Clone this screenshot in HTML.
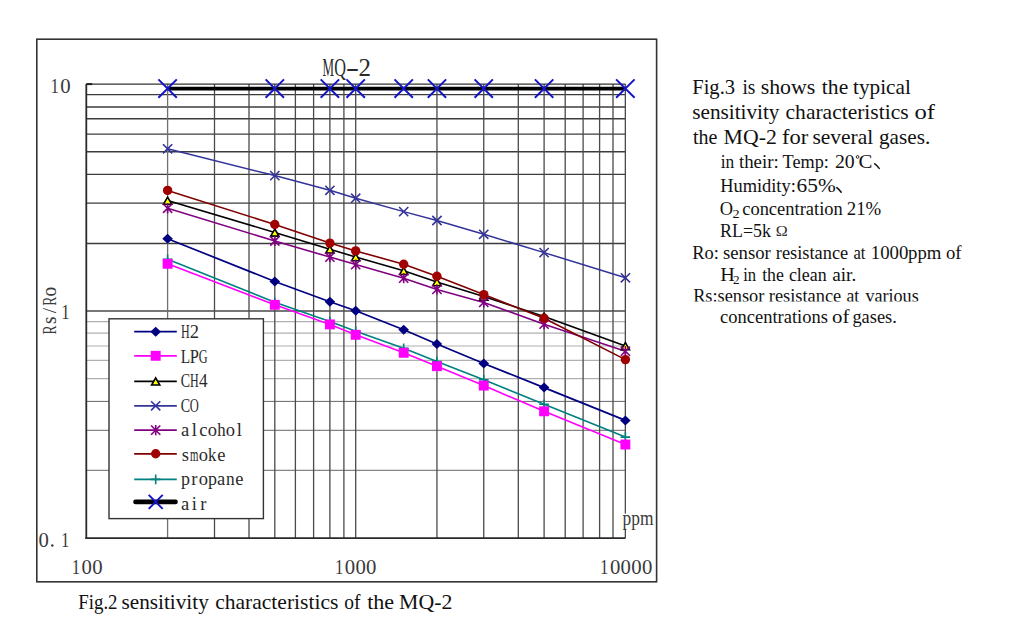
<!DOCTYPE html>
<html><head><meta charset="utf-8"><title>MQ-2</title>
<style>html,body{margin:0;padding:0;background:#fff;width:1024px;height:628px;overflow:hidden;position:relative}
svg text{font-family:"Liberation Serif",serif}</style></head>
<body>
<svg width="1024" height="628" viewBox="0 0 1024 628" style="position:absolute;left:0;top:0">
<rect x="36.8" y="39.2" width="619.8" height="542.6" fill="none" stroke="#333" stroke-width="1.6"/>
<line x1="86.3" y1="94.60" x2="625.4" y2="94.60" stroke="#3c3c3c" stroke-width="1.4"/>
<line x1="86.3" y1="107.00" x2="625.4" y2="107.00" stroke="#3c3c3c" stroke-width="1.4"/>
<line x1="86.3" y1="118.80" x2="625.4" y2="118.80" stroke="#3c3c3c" stroke-width="1.4"/>
<line x1="86.3" y1="134.10" x2="625.4" y2="134.10" stroke="#3c3c3c" stroke-width="1.4"/>
<line x1="86.3" y1="151.70" x2="625.4" y2="151.70" stroke="#3c3c3c" stroke-width="1.4"/>
<line x1="86.3" y1="174.40" x2="625.4" y2="174.40" stroke="#3c3c3c" stroke-width="1.4"/>
<line x1="86.3" y1="203.10" x2="625.4" y2="203.10" stroke="#3c3c3c" stroke-width="1.4"/>
<line x1="86.3" y1="243.50" x2="625.4" y2="243.50" stroke="#3c3c3c" stroke-width="1.4"/>
<line x1="86.3" y1="311.00" x2="625.4" y2="311.00" stroke="#4a4a4a" stroke-width="1.4"/>
<line x1="86.3" y1="321.70" x2="625.4" y2="321.70" stroke="#b0b0b0" stroke-width="1.2"/>
<line x1="86.3" y1="333.20" x2="625.4" y2="333.20" stroke="#b0b0b0" stroke-width="1.2"/>
<line x1="86.3" y1="346.00" x2="625.4" y2="346.00" stroke="#b0b0b0" stroke-width="1.2"/>
<line x1="86.3" y1="360.40" x2="625.4" y2="360.40" stroke="#b0b0b0" stroke-width="1.2"/>
<line x1="86.3" y1="378.70" x2="625.4" y2="378.70" stroke="#b0b0b0" stroke-width="1.2"/>
<line x1="86.3" y1="401.40" x2="625.4" y2="401.40" stroke="#666" stroke-width="1.0"/>
<line x1="86.3" y1="430.30" x2="625.4" y2="430.30" stroke="#666" stroke-width="1.0"/>
<line x1="86.3" y1="470.30" x2="625.4" y2="470.30" stroke="#666" stroke-width="1.0"/>
<line x1="167.60" y1="84.1" x2="167.60" y2="538.2" stroke="#707070" stroke-width="1.3"/>
<line x1="214.50" y1="84.1" x2="214.50" y2="538.2" stroke="#4a4a4a" stroke-width="1.3"/>
<line x1="249.00" y1="84.1" x2="249.00" y2="538.2" stroke="#4a4a4a" stroke-width="1.3"/>
<line x1="274.80" y1="84.1" x2="274.80" y2="538.2" stroke="#4a4a4a" stroke-width="1.3"/>
<line x1="295.40" y1="84.1" x2="295.40" y2="538.2" stroke="#4a4a4a" stroke-width="1.3"/>
<line x1="313.60" y1="84.1" x2="313.60" y2="538.2" stroke="#4a4a4a" stroke-width="1.3"/>
<line x1="329.90" y1="84.1" x2="329.90" y2="538.2" stroke="#4a4a4a" stroke-width="1.3"/>
<line x1="343.90" y1="84.1" x2="343.90" y2="538.2" stroke="#4a4a4a" stroke-width="1.3"/>
<line x1="355.70" y1="84.1" x2="355.70" y2="538.2" stroke="#4a4a4a" stroke-width="1.3"/>
<line x1="436.95" y1="84.1" x2="436.95" y2="538.2" stroke="#4a4a4a" stroke-width="1.3"/>
<line x1="483.75" y1="84.1" x2="483.75" y2="538.2" stroke="#4a4a4a" stroke-width="1.3"/>
<line x1="518.30" y1="84.1" x2="518.30" y2="538.2" stroke="#4a4a4a" stroke-width="1.3"/>
<line x1="544.10" y1="84.1" x2="544.10" y2="538.2" stroke="#4a4a4a" stroke-width="1.3"/>
<line x1="565.20" y1="84.1" x2="565.20" y2="538.2" stroke="#4a4a4a" stroke-width="1.3"/>
<line x1="583.10" y1="84.1" x2="583.10" y2="538.2" stroke="#4a4a4a" stroke-width="1.3"/>
<line x1="599.60" y1="84.1" x2="599.60" y2="538.2" stroke="#4a4a4a" stroke-width="1.3"/>
<line x1="613.00" y1="84.1" x2="613.00" y2="538.2" stroke="#4a4a4a" stroke-width="1.3"/>
<line x1="625.35" y1="84.1" x2="625.35" y2="538.2" stroke="#4a4a4a" stroke-width="1.3"/>
<line x1="86.3" y1="84.10" x2="625.4" y2="84.10" stroke="#333" stroke-width="1.4"/>
<line x1="86.30" y1="84.1" x2="86.30" y2="539.0" stroke="#2a2a2a" stroke-width="1.8"/>
<line x1="85.4" y1="538.20" x2="625.4" y2="538.20" stroke="#2a2a2a" stroke-width="1.8"/>
<line x1="86.3" y1="84.10" x2="92.3" y2="84.10" stroke="#222" stroke-width="2"/>
<polyline points="167.6,238.7 274.8,281.5 329.9,301.8 355.7,310.7 403.7,329.8 436.9,344.0 483.8,363.5 544.1,387.6 625.4,420.4" fill="none" stroke="#000080" stroke-width="1.7" stroke-linejoin="round"/>
<polyline points="167.6,263.8 274.8,304.8 329.9,324.4 355.7,334.8 403.7,352.8 436.9,366.2 483.8,385.6 544.1,411.3 625.4,444.5" fill="none" stroke="#ff00ff" stroke-width="1.6" stroke-linejoin="round"/>
<polyline points="167.6,200.5 274.8,232.4 329.9,249.3 355.7,257.0 403.7,270.8 436.9,282.0 483.8,296.5 544.1,316.5 625.4,346.0" fill="none" stroke="#000000" stroke-width="1.6" stroke-linejoin="round"/>
<polyline points="167.6,148.8 274.8,175.6 329.9,190.3 355.7,198.2 403.7,211.6 436.9,220.5 483.8,234.3 544.1,252.6 625.4,277.8" fill="none" stroke="#333399" stroke-width="1.5" stroke-linejoin="round"/>
<polyline points="167.6,208.3 274.8,241.0 329.9,257.1 355.7,264.6 403.7,278.2 436.9,289.4 483.8,302.4 544.1,324.2 625.4,351.2" fill="none" stroke="#800080" stroke-width="1.6" stroke-linejoin="round"/>
<polyline points="167.6,190.4 274.8,224.5 329.9,243.1 355.7,250.9 403.7,264.2 436.9,276.3 483.8,294.6 544.1,318.2 625.4,359.6" fill="none" stroke="#800000" stroke-width="1.6" stroke-linejoin="round"/>
<polyline points="167.6,259.3 274.8,302.2 329.9,321.5 355.7,331.2 403.7,348.2 436.9,361.5 483.8,379.8 544.1,404.3 625.4,437.1" fill="none" stroke="#008080" stroke-width="1.6" stroke-linejoin="round"/>
<polyline points="167.6,88.6 274.8,88.6 329.9,88.6 355.7,88.6 403.7,88.6 436.9,88.6 483.8,88.6 544.1,88.6 625.4,88.6" fill="none" stroke="#000000" stroke-width="3.8" stroke-linejoin="round"/>
<path d="M167.6 233.7L172.9 238.7L167.6 243.7L162.3 238.7Z" fill="#000080"/>
<path d="M274.8 276.5L280.1 281.5L274.8 286.5L269.5 281.5Z" fill="#000080"/>
<path d="M329.9 296.8L335.2 301.8L329.9 306.8L324.6 301.8Z" fill="#000080"/>
<path d="M355.7 305.7L361.0 310.7L355.7 315.7L350.4 310.7Z" fill="#000080"/>
<path d="M403.7 324.8L409.0 329.8L403.7 334.8L398.4 329.8Z" fill="#000080"/>
<path d="M436.9 339.0L442.2 344.0L436.9 349.0L431.6 344.0Z" fill="#000080"/>
<path d="M483.8 358.5L489.1 363.5L483.8 368.5L478.4 363.5Z" fill="#000080"/>
<path d="M544.1 382.6L549.4 387.6L544.1 392.6L538.8 387.6Z" fill="#000080"/>
<path d="M625.4 415.4L630.6 420.4L625.4 425.4L620.1 420.4Z" fill="#000080"/>
<path d="M167.6 197.1L171.7 204.2L163.5 204.2Z" fill="#ffff00" stroke="#000" stroke-width="1.6" stroke-linejoin="miter"/>
<path d="M274.8 229.0L278.9 236.1L270.7 236.1Z" fill="#ffff00" stroke="#000" stroke-width="1.6" stroke-linejoin="miter"/>
<path d="M329.9 245.9L334.0 253.0L325.8 253.0Z" fill="#ffff00" stroke="#000" stroke-width="1.6" stroke-linejoin="miter"/>
<path d="M355.7 253.6L359.8 260.7L351.6 260.7Z" fill="#ffff00" stroke="#000" stroke-width="1.6" stroke-linejoin="miter"/>
<path d="M403.7 267.4L407.8 274.5L399.6 274.5Z" fill="#ffff00" stroke="#000" stroke-width="1.6" stroke-linejoin="miter"/>
<path d="M436.9 278.6L441.1 285.7L432.8 285.7Z" fill="#ffff00" stroke="#000" stroke-width="1.6" stroke-linejoin="miter"/>
<path d="M483.8 293.1L487.9 300.2L479.6 300.2Z" fill="#ffff00" stroke="#000" stroke-width="1.6" stroke-linejoin="miter"/>
<path d="M544.1 313.1L548.2 320.2L540.0 320.2Z" fill="#ffff00" stroke="#000" stroke-width="1.6" stroke-linejoin="miter"/>
<path d="M625.4 342.6L629.5 349.7L621.2 349.7Z" fill="#ffff00" stroke="#000" stroke-width="1.6" stroke-linejoin="miter"/>
<path d="M163.0 144.2L172.2 153.4M172.2 144.2L163.0 153.4" stroke="#333399" stroke-width="1.6" fill="none"/>
<path d="M270.2 171.0L279.4 180.2M279.4 171.0L270.2 180.2" stroke="#333399" stroke-width="1.6" fill="none"/>
<path d="M325.3 185.7L334.5 194.9M334.5 185.7L325.3 194.9" stroke="#333399" stroke-width="1.6" fill="none"/>
<path d="M351.1 193.6L360.3 202.8M360.3 193.6L351.1 202.8" stroke="#333399" stroke-width="1.6" fill="none"/>
<path d="M399.1 207.0L408.3 216.2M408.3 207.0L399.1 216.2" stroke="#333399" stroke-width="1.6" fill="none"/>
<path d="M432.3 215.9L441.6 225.1M441.6 215.9L432.3 225.1" stroke="#333399" stroke-width="1.6" fill="none"/>
<path d="M479.1 229.7L488.4 238.9M488.4 229.7L479.1 238.9" stroke="#333399" stroke-width="1.6" fill="none"/>
<path d="M539.5 248.0L548.7 257.2M548.7 248.0L539.5 257.2" stroke="#333399" stroke-width="1.6" fill="none"/>
<path d="M620.8 273.2L630.0 282.4M630.0 273.2L620.8 282.4" stroke="#333399" stroke-width="1.6" fill="none"/>
<path d="M163.0 203.7L172.2 212.9M172.2 203.7L163.0 212.9M167.6 203.2L167.6 213.4" stroke="#800080" stroke-width="1.6" fill="none"/>
<path d="M270.2 236.4L279.4 245.6M279.4 236.4L270.2 245.6M274.8 235.9L274.8 246.1" stroke="#800080" stroke-width="1.6" fill="none"/>
<path d="M325.3 252.5L334.5 261.7M334.5 252.5L325.3 261.7M329.9 252.0L329.9 262.2" stroke="#800080" stroke-width="1.6" fill="none"/>
<path d="M351.1 260.0L360.3 269.2M360.3 260.0L351.1 269.2M355.7 259.5L355.7 269.7" stroke="#800080" stroke-width="1.6" fill="none"/>
<path d="M399.1 273.6L408.3 282.8M408.3 273.6L399.1 282.8M403.7 273.1L403.7 283.3" stroke="#800080" stroke-width="1.6" fill="none"/>
<path d="M432.3 284.8L441.6 294.0M441.6 284.8L432.3 294.0M436.9 284.3L436.9 294.5" stroke="#800080" stroke-width="1.6" fill="none"/>
<path d="M479.1 297.8L488.4 307.0M488.4 297.8L479.1 307.0M483.8 297.3L483.8 307.5" stroke="#800080" stroke-width="1.6" fill="none"/>
<path d="M539.5 319.6L548.7 328.8M548.7 319.6L539.5 328.8M544.1 319.1L544.1 329.3" stroke="#800080" stroke-width="1.6" fill="none"/>
<path d="M620.8 346.6L630.0 355.8M630.0 346.6L620.8 355.8M625.4 346.1L625.4 356.3" stroke="#800080" stroke-width="1.6" fill="none"/>
<circle cx="167.6" cy="190.4" r="4.7" fill="#a00000"/>
<circle cx="274.8" cy="224.5" r="4.7" fill="#a00000"/>
<circle cx="329.9" cy="243.1" r="4.7" fill="#a00000"/>
<circle cx="355.7" cy="250.9" r="4.7" fill="#a00000"/>
<circle cx="403.7" cy="264.2" r="4.7" fill="#a00000"/>
<circle cx="436.9" cy="276.3" r="4.7" fill="#a00000"/>
<circle cx="483.8" cy="294.6" r="4.7" fill="#a00000"/>
<circle cx="544.1" cy="318.2" r="4.7" fill="#a00000"/>
<circle cx="625.4" cy="359.6" r="4.7" fill="#a00000"/>
<path d="M162.8 259.3L172.4 259.3M167.6 254.5L167.6 264.1" stroke="#008080" stroke-width="1.6" fill="none"/>
<path d="M270.0 302.2L279.6 302.2M274.8 297.4L274.8 307.0" stroke="#008080" stroke-width="1.6" fill="none"/>
<path d="M325.1 321.5L334.7 321.5M329.9 316.7L329.9 326.3" stroke="#008080" stroke-width="1.6" fill="none"/>
<path d="M350.9 331.2L360.5 331.2M355.7 326.4L355.7 336.0" stroke="#008080" stroke-width="1.6" fill="none"/>
<path d="M398.9 348.2L408.5 348.2M403.7 343.4L403.7 353.0" stroke="#008080" stroke-width="1.6" fill="none"/>
<path d="M432.1 361.5L441.8 361.5M436.9 356.7L436.9 366.3" stroke="#008080" stroke-width="1.6" fill="none"/>
<path d="M478.9 379.8L488.6 379.8M483.8 375.0L483.8 384.6" stroke="#008080" stroke-width="1.6" fill="none"/>
<path d="M539.3 404.3L548.9 404.3M544.1 399.5L544.1 409.1" stroke="#008080" stroke-width="1.6" fill="none"/>
<path d="M620.6 437.1L630.1 437.1M625.4 432.3L625.4 441.9" stroke="#008080" stroke-width="1.6" fill="none"/>
<rect x="162.65" y="258.85" width="9.9" height="9.9" fill="#ff00ff"/>
<rect x="269.85" y="299.85" width="9.9" height="9.9" fill="#ff00ff"/>
<rect x="324.95" y="319.45" width="9.9" height="9.9" fill="#ff00ff"/>
<rect x="350.75" y="329.85" width="9.9" height="9.9" fill="#ff00ff"/>
<rect x="398.75" y="347.85" width="9.9" height="9.9" fill="#ff00ff"/>
<rect x="432.00" y="361.25" width="9.9" height="9.9" fill="#ff00ff"/>
<rect x="478.80" y="380.65" width="9.9" height="9.9" fill="#ff00ff"/>
<rect x="539.15" y="406.35" width="9.9" height="9.9" fill="#ff00ff"/>
<rect x="620.40" y="439.55" width="9.9" height="9.9" fill="#ff00ff"/>
<path d="M158.4 79.4L176.8 97.8M176.8 79.4L158.4 97.8" stroke="#1414c8" stroke-width="2" fill="none"/>
<path d="M265.6 79.4L284.0 97.8M284.0 79.4L265.6 97.8" stroke="#1414c8" stroke-width="2" fill="none"/>
<path d="M320.7 79.4L339.1 97.8M339.1 79.4L320.7 97.8" stroke="#1414c8" stroke-width="2" fill="none"/>
<path d="M346.5 79.4L364.9 97.8M364.9 79.4L346.5 97.8" stroke="#1414c8" stroke-width="2" fill="none"/>
<path d="M394.5 79.4L412.9 97.8M412.9 79.4L394.5 97.8" stroke="#1414c8" stroke-width="2" fill="none"/>
<path d="M427.8 79.4L446.1 97.8M446.1 79.4L427.8 97.8" stroke="#1414c8" stroke-width="2" fill="none"/>
<path d="M474.6 79.4L492.9 97.8M492.9 79.4L474.6 97.8" stroke="#1414c8" stroke-width="2" fill="none"/>
<path d="M534.9 79.4L553.3 97.8M553.3 79.4L534.9 97.8" stroke="#1414c8" stroke-width="2" fill="none"/>
<path d="M616.1 79.4L634.6 97.8M634.6 79.4L616.1 97.8" stroke="#1414c8" stroke-width="2" fill="none"/>
<rect x="109" y="318.8" width="154.4" height="199.8" fill="#fff" stroke="#333" stroke-width="1.4"/>
<line x1="134.2" y1="331.7" x2="176.8" y2="331.7" stroke="#000080" stroke-width="1.8"/>
<path d="M155.7 326.7L161.0 331.7L155.7 336.7L150.4 331.7Z" fill="#000080"/>
<line x1="134.2" y1="355.8" x2="176.8" y2="355.8" stroke="#ff00ff" stroke-width="1.8"/>
<rect x="150.75" y="350.85" width="9.9" height="9.9" fill="#ff00ff"/>
<line x1="134.2" y1="381.3" x2="176.8" y2="381.3" stroke="#000000" stroke-width="1.8"/>
<path d="M155.7 377.9L159.8 385.0L151.6 385.0Z" fill="#ffff00" stroke="#000" stroke-width="1.6" stroke-linejoin="miter"/>
<line x1="134.2" y1="405.8" x2="176.8" y2="405.8" stroke="#333399" stroke-width="1.8"/>
<path d="M151.1 401.2L160.3 410.4M160.3 401.2L151.1 410.4" stroke="#333399" stroke-width="1.6" fill="none"/>
<line x1="134.2" y1="430.1" x2="176.8" y2="430.1" stroke="#800080" stroke-width="1.8"/>
<path d="M151.1 425.5L160.3 434.7M160.3 425.5L151.1 434.7M155.7 425.0L155.7 435.2" stroke="#800080" stroke-width="1.6" fill="none"/>
<line x1="134.2" y1="453.8" x2="176.8" y2="453.8" stroke="#800000" stroke-width="1.8"/>
<circle cx="155.7" cy="453.8" r="4.7" fill="#a00000"/>
<line x1="134.2" y1="479.4" x2="176.8" y2="479.4" stroke="#008080" stroke-width="1.8"/>
<path d="M150.9 479.4L160.5 479.4M155.7 474.6L155.7 484.2" stroke="#008080" stroke-width="1.6" fill="none"/>
<line x1="135.5" y1="501.9" x2="175.5" y2="501.9" stroke="#000" stroke-width="4.6" stroke-linecap="round"/>
<path d="M148.7 494.9L162.7 508.9M162.7 494.9L148.7 508.9" stroke="#1414c8" stroke-width="2" fill="none"/>
<text transform="translate(185.30,338.00) scale(0.651,1.000)" x="-6.68" y="0" font-family="Liberation Serif, serif" font-size="18.5" fill="#2a2a2a">H</text><text transform="translate(194.30,338.00) scale(1.000,1.000)" x="-4.52" y="0" font-family="Liberation Serif, serif" font-size="18.5" fill="#2a2a2a">2</text>
<text transform="translate(185.30,362.50) scale(0.828,1.000)" x="-5.36" y="0" font-family="Liberation Serif, serif" font-size="18.5" fill="#2a2a2a">L</text><text transform="translate(194.30,362.50) scale(0.887,1.000)" x="-5.04" y="0" font-family="Liberation Serif, serif" font-size="18.5" fill="#2a2a2a">P</text><text transform="translate(203.30,362.50) scale(0.665,1.000)" x="-6.77" y="0" font-family="Liberation Serif, serif" font-size="18.5" fill="#2a2a2a">G</text>
<text transform="translate(185.30,387.00) scale(0.758,1.000)" x="-6.04" y="0" font-family="Liberation Serif, serif" font-size="18.5" fill="#2a2a2a">C</text><text transform="translate(194.30,387.00) scale(0.651,1.000)" x="-6.68" y="0" font-family="Liberation Serif, serif" font-size="18.5" fill="#2a2a2a">H</text><text transform="translate(203.30,387.00) scale(0.930,1.000)" x="-4.66" y="0" font-family="Liberation Serif, serif" font-size="18.5" fill="#2a2a2a">4</text>
<text transform="translate(185.30,411.50) scale(0.758,1.000)" x="-6.04" y="0" font-family="Liberation Serif, serif" font-size="18.5" fill="#2a2a2a">C</text><text transform="translate(194.30,411.50) scale(0.676,1.000)" x="-6.68" y="0" font-family="Liberation Serif, serif" font-size="18.5" fill="#2a2a2a">O</text>
<text transform="translate(185.30,436.00) scale(1.000,1.000)" x="-4.30" y="0" font-family="Liberation Serif, serif" font-size="18.5" fill="#2a2a2a">a</text><text transform="translate(194.30,436.00) scale(1.000,1.000)" x="-2.57" y="0" font-family="Liberation Serif, serif" font-size="18.5" fill="#2a2a2a">l</text><text transform="translate(203.30,436.00) scale(1.000,1.000)" x="-4.17" y="0" font-family="Liberation Serif, serif" font-size="18.5" fill="#2a2a2a">c</text><text transform="translate(212.30,436.00) scale(1.000,1.000)" x="-4.62" y="0" font-family="Liberation Serif, serif" font-size="18.5" fill="#2a2a2a">o</text><text transform="translate(221.30,436.00) scale(0.906,1.000)" x="-4.59" y="0" font-family="Liberation Serif, serif" font-size="18.5" fill="#2a2a2a">h</text><text transform="translate(230.30,436.00) scale(1.000,1.000)" x="-4.62" y="0" font-family="Liberation Serif, serif" font-size="18.5" fill="#2a2a2a">o</text><text transform="translate(239.30,436.00) scale(1.000,1.000)" x="-2.57" y="0" font-family="Liberation Serif, serif" font-size="18.5" fill="#2a2a2a">l</text>
<text transform="translate(185.30,460.50) scale(1.000,1.000)" x="-3.64" y="0" font-family="Liberation Serif, serif" font-size="18.5" fill="#2a2a2a">s</text><text transform="translate(194.30,460.50) scale(0.583,1.000)" x="-7.24" y="0" font-family="Liberation Serif, serif" font-size="18.5" fill="#2a2a2a">m</text><text transform="translate(203.30,460.50) scale(1.000,1.000)" x="-4.62" y="0" font-family="Liberation Serif, serif" font-size="18.5" fill="#2a2a2a">o</text><text transform="translate(212.30,460.50) scale(0.899,1.000)" x="-4.80" y="0" font-family="Liberation Serif, serif" font-size="18.5" fill="#2a2a2a">k</text><text transform="translate(221.30,460.50) scale(1.000,1.000)" x="-4.15" y="0" font-family="Liberation Serif, serif" font-size="18.5" fill="#2a2a2a">e</text>
<text transform="translate(185.30,485.00) scale(0.972,1.000)" x="-4.41" y="0" font-family="Liberation Serif, serif" font-size="18.5" fill="#2a2a2a">p</text><text transform="translate(194.30,485.00) scale(1.000,1.000)" x="-3.18" y="0" font-family="Liberation Serif, serif" font-size="18.5" fill="#2a2a2a">r</text><text transform="translate(203.30,485.00) scale(1.000,1.000)" x="-4.62" y="0" font-family="Liberation Serif, serif" font-size="18.5" fill="#2a2a2a">o</text><text transform="translate(212.30,485.00) scale(0.972,1.000)" x="-4.41" y="0" font-family="Liberation Serif, serif" font-size="18.5" fill="#2a2a2a">p</text><text transform="translate(221.30,485.00) scale(1.000,1.000)" x="-4.30" y="0" font-family="Liberation Serif, serif" font-size="18.5" fill="#2a2a2a">a</text><text transform="translate(230.30,485.00) scale(0.936,1.000)" x="-4.70" y="0" font-family="Liberation Serif, serif" font-size="18.5" fill="#2a2a2a">n</text><text transform="translate(239.30,485.00) scale(1.000,1.000)" x="-4.15" y="0" font-family="Liberation Serif, serif" font-size="18.5" fill="#2a2a2a">e</text>
<text transform="translate(185.30,509.50) scale(1.000,1.000)" x="-4.30" y="0" font-family="Liberation Serif, serif" font-size="18.5" fill="#2a2a2a">a</text><text transform="translate(194.30,509.50) scale(1.000,1.000)" x="-2.59" y="0" font-family="Liberation Serif, serif" font-size="18.5" fill="#2a2a2a">i</text><text transform="translate(203.30,509.50) scale(1.000,1.000)" x="-3.18" y="0" font-family="Liberation Serif, serif" font-size="18.5" fill="#2a2a2a">r</text>
<text transform="translate(328.30,76.40) scale(0.520,1.000)" x="-11.11" y="0" font-family="Liberation Serif, serif" font-size="25" fill="#2a2a2a">M</text><text transform="translate(340.37,76.40) scale(0.651,1.000)" x="-9.33" y="0" font-family="Liberation Serif, serif" font-size="25" fill="#2a2a2a">Q</text><text transform="translate(352.44,76.40) scale(1.617,1.000)" x="-4.17" y="0" font-family="Liberation Serif, serif" font-size="25" fill="#2a2a2a">-</text><text transform="translate(364.51,76.40) scale(1.000,1.000)" x="-6.11" y="0" font-family="Liberation Serif, serif" font-size="25" fill="#2a2a2a">2</text>
<text transform="translate(54.85,92.70) scale(0.798,1.000)" x="-5.54" y="0" font-family="Liberation Serif, serif" font-size="21" fill="#3a3a3a">1</text><text transform="translate(65.50,92.70) scale(0.989,1.000)" x="-5.25" y="0" font-family="Liberation Serif, serif" font-size="21" fill="#3a3a3a">0</text>
<text transform="translate(65.60,318.60) scale(0.798,1.000)" x="-5.54" y="0" font-family="Liberation Serif, serif" font-size="21" fill="#3a3a3a">1</text>
<text transform="translate(43.70,546.70) scale(0.989,1.000)" x="-5.25" y="0" font-family="Liberation Serif, serif" font-size="21" fill="#3a3a3a">0</text>
<circle cx="52.3" cy="545.4" r="1.25" fill="#3a3a3a"/>
<text transform="translate(65.40,546.70) scale(0.798,1.000)" x="-5.54" y="0" font-family="Liberation Serif, serif" font-size="21" fill="#3a3a3a">1</text>
<text transform="translate(76.15,573.80) scale(0.798,1.000)" x="-5.54" y="0" font-family="Liberation Serif, serif" font-size="21" fill="#3a3a3a">1</text><text transform="translate(86.80,573.80) scale(0.989,1.000)" x="-5.25" y="0" font-family="Liberation Serif, serif" font-size="21" fill="#3a3a3a">0</text><text transform="translate(97.45,573.80) scale(0.989,1.000)" x="-5.25" y="0" font-family="Liberation Serif, serif" font-size="21" fill="#3a3a3a">0</text>
<text transform="translate(339.32,573.80) scale(0.798,1.000)" x="-5.54" y="0" font-family="Liberation Serif, serif" font-size="21" fill="#3a3a3a">1</text><text transform="translate(349.97,573.80) scale(0.989,1.000)" x="-5.25" y="0" font-family="Liberation Serif, serif" font-size="21" fill="#3a3a3a">0</text><text transform="translate(360.62,573.80) scale(0.989,1.000)" x="-5.25" y="0" font-family="Liberation Serif, serif" font-size="21" fill="#3a3a3a">0</text><text transform="translate(371.27,573.80) scale(0.989,1.000)" x="-5.25" y="0" font-family="Liberation Serif, serif" font-size="21" fill="#3a3a3a">0</text>
<text transform="translate(604.50,573.80) scale(0.798,1.000)" x="-5.54" y="0" font-family="Liberation Serif, serif" font-size="21" fill="#3a3a3a">1</text><text transform="translate(615.15,573.80) scale(0.989,1.000)" x="-5.25" y="0" font-family="Liberation Serif, serif" font-size="21" fill="#3a3a3a">0</text><text transform="translate(625.80,573.80) scale(0.989,1.000)" x="-5.25" y="0" font-family="Liberation Serif, serif" font-size="21" fill="#3a3a3a">0</text><text transform="translate(636.45,573.80) scale(0.989,1.000)" x="-5.25" y="0" font-family="Liberation Serif, serif" font-size="21" fill="#3a3a3a">0</text><text transform="translate(647.10,573.80) scale(0.989,1.000)" x="-5.25" y="0" font-family="Liberation Serif, serif" font-size="21" fill="#3a3a3a">0</text>
<rect x="622" y="513.6" width="32" height="15.2" fill="#fff"/>
<text x="622.62" y="524.80" font-family="Liberation Serif, serif" font-size="20" textLength="30.95" lengthAdjust="spacingAndGlyphs" fill="#3a3a3a">ppm</text>
<g transform="translate(56.3,0) rotate(-90)"><text transform="translate(-329.80,0.00) scale(0.700,1.000)" x="-6.70" y="0" font-family="Liberation Serif, serif" font-size="19.3" fill="#3a3a3a">R</text><text transform="translate(-320.25,0.00) scale(1.000,1.120)" x="-3.80" y="0" font-family="Liberation Serif, serif" font-size="19.3" fill="#3a3a3a">s</text><text transform="translate(-310.70,0.00) scale(1.000,1.000)" x="-2.68" y="0" font-family="Liberation Serif, serif" font-size="19.3" fill="#3a3a3a">/</text><text transform="translate(-301.15,0.00) scale(0.700,1.000)" x="-6.70" y="0" font-family="Liberation Serif, serif" font-size="19.3" fill="#3a3a3a">R</text><text transform="translate(-291.60,0.00) scale(1.000,1.120)" x="-4.83" y="0" font-family="Liberation Serif, serif" font-size="19.3" fill="#3a3a3a">o</text></g>
<text x="78.26" y="609.00" font-family="Liberation Serif, serif" font-size="21.5" textLength="39.28" lengthAdjust="spacingAndGlyphs" fill="#111">Fig.2</text>
<text x="121.53" y="609.00" font-family="Liberation Serif, serif" font-size="21.5" textLength="87.25" lengthAdjust="spacingAndGlyphs" fill="#111">sensitivity</text>
<text x="215.18" y="609.00" font-family="Liberation Serif, serif" font-size="21.5" textLength="123.20" lengthAdjust="spacingAndGlyphs" fill="#111">characteristics</text>
<text x="344.16" y="609.00" font-family="Liberation Serif, serif" font-size="21.5" textLength="16.24" lengthAdjust="spacingAndGlyphs" fill="#111">of</text>
<text x="367.18" y="609.00" font-family="Liberation Serif, serif" font-size="21.5" textLength="26.98" lengthAdjust="spacingAndGlyphs" fill="#111">the</text>
<text x="399.07" y="609.00" font-family="Liberation Serif, serif" font-size="21.5" textLength="53.33" lengthAdjust="spacingAndGlyphs" fill="#111">MQ-2</text>
<text x="692.21" y="94.00" font-family="Liberation Serif, serif" font-size="21.5" textLength="42.90" lengthAdjust="spacingAndGlyphs" fill="#111">Fig.3</text>
<text x="742.39" y="94.00" font-family="Liberation Serif, serif" font-size="21.5" textLength="12.91" lengthAdjust="spacingAndGlyphs" fill="#111">is</text>
<text x="760.70" y="94.00" font-family="Liberation Serif, serif" font-size="21.5" textLength="54.58" lengthAdjust="spacingAndGlyphs" fill="#111">shows</text>
<text x="821.89" y="94.00" font-family="Liberation Serif, serif" font-size="21.5" textLength="26.36" lengthAdjust="spacingAndGlyphs" fill="#111">the</text>
<text x="852.99" y="94.00" font-family="Liberation Serif, serif" font-size="21.5" textLength="57.83" lengthAdjust="spacingAndGlyphs" fill="#111">typical</text>
<text x="692.23" y="119.00" font-family="Liberation Serif, serif" font-size="21.5" textLength="87.25" lengthAdjust="spacingAndGlyphs" fill="#111">sensitivity</text>
<text x="785.58" y="119.00" font-family="Liberation Serif, serif" font-size="21.5" textLength="123.00" lengthAdjust="spacingAndGlyphs" fill="#111">characteristics</text>
<text x="914.46" y="119.00" font-family="Liberation Serif, serif" font-size="21.5" textLength="20.54" lengthAdjust="spacingAndGlyphs" fill="#111">of</text>
<text x="692.91" y="144.20" font-family="Liberation Serif, serif" font-size="21.5" textLength="24.39" lengthAdjust="spacingAndGlyphs" fill="#111">the</text>
<text x="723.57" y="144.20" font-family="Liberation Serif, serif" font-size="21.5" textLength="53.23" lengthAdjust="spacingAndGlyphs" fill="#111">MQ-2</text>
<text x="781.91" y="144.20" font-family="Liberation Serif, serif" font-size="21.5" textLength="26.29" lengthAdjust="spacingAndGlyphs" fill="#111">for</text>
<text x="812.42" y="144.20" font-family="Liberation Serif, serif" font-size="21.5" textLength="60.91" lengthAdjust="spacingAndGlyphs" fill="#111">several</text>
<text x="878.99" y="144.20" font-family="Liberation Serif, serif" font-size="21.5" textLength="51.21" lengthAdjust="spacingAndGlyphs" fill="#111">gases.</text>
<text x="720.73" y="167.90" font-family="Liberation Serif, serif" font-size="18.5" textLength="13.53" lengthAdjust="spacingAndGlyphs" fill="#111">in</text>
<text x="738.92" y="167.90" font-family="Liberation Serif, serif" font-size="18.5" textLength="39.81" lengthAdjust="spacingAndGlyphs" fill="#111">their:</text>
<text x="782.58" y="167.90" font-family="Liberation Serif, serif" font-size="18.5" textLength="46.26" lengthAdjust="spacingAndGlyphs" fill="#111">Temp:</text>
<text x="834.93" y="167.90" font-family="Liberation Serif, serif" font-size="18.5" textLength="19.72" lengthAdjust="spacingAndGlyphs" fill="#111">20</text>
<text x="858.64" y="167.90" font-family="Liberation Serif, serif" font-size="18.5" textLength="13.91" lengthAdjust="spacingAndGlyphs" fill="#111">C</text>
<text x="720.17" y="192.10" font-family="Liberation Serif, serif" font-size="18.5" textLength="75.62" lengthAdjust="spacingAndGlyphs" fill="#111">Humidity:</text>
<text x="796.58" y="192.10" font-family="Liberation Serif, serif" font-size="18.5" textLength="39.15" lengthAdjust="spacingAndGlyphs" fill="#111">65%</text>
<text x="719.84" y="214.70" font-family="Liberation Serif, serif" font-size="18.5" textLength="13.31" lengthAdjust="spacingAndGlyphs" fill="#111">O</text>
<text x="742.20" y="214.70" font-family="Liberation Serif, serif" font-size="18.5" textLength="100.58" lengthAdjust="spacingAndGlyphs" fill="#111">concentration</text>
<text x="846.77" y="214.70" font-family="Liberation Serif, serif" font-size="18.5" textLength="34.47" lengthAdjust="spacingAndGlyphs" fill="#111">21%</text>
<text x="720.08" y="236.90" font-family="Liberation Serif, serif" font-size="18.5" textLength="50.92" lengthAdjust="spacingAndGlyphs" fill="#111">RL=5k</text>
<text x="692.27" y="259.40" font-family="Liberation Serif, serif" font-size="18.5" textLength="26.62" lengthAdjust="spacingAndGlyphs" fill="#111">Ro:</text>
<text x="723.03" y="259.40" font-family="Liberation Serif, serif" font-size="18.5" textLength="47.83" lengthAdjust="spacingAndGlyphs" fill="#111">sensor</text>
<text x="775.83" y="259.40" font-family="Liberation Serif, serif" font-size="18.5" textLength="72.40" lengthAdjust="spacingAndGlyphs" fill="#111">resistance</text>
<text x="853.42" y="259.40" font-family="Liberation Serif, serif" font-size="18.5" textLength="11.98" lengthAdjust="spacingAndGlyphs" fill="#111">at</text>
<text x="870.75" y="259.40" font-family="Liberation Serif, serif" font-size="18.5" textLength="37.57" lengthAdjust="spacingAndGlyphs" fill="#111">1000</text>
<text x="908.10" y="259.40" font-family="Liberation Serif, serif" font-size="18.5" textLength="33.29" lengthAdjust="spacingAndGlyphs" fill="#111">ppm</text>
<text x="945.99" y="259.40" font-family="Liberation Serif, serif" font-size="18.5" textLength="15.61" lengthAdjust="spacingAndGlyphs" fill="#111">of</text>
<text x="720.32" y="280.80" font-family="Liberation Serif, serif" font-size="18.5" textLength="14.57" lengthAdjust="spacingAndGlyphs" fill="#111">H</text>
<text x="743.25" y="280.80" font-family="Liberation Serif, serif" font-size="18.5" textLength="12.90" lengthAdjust="spacingAndGlyphs" fill="#111">in</text>
<text x="762.13" y="280.80" font-family="Liberation Serif, serif" font-size="18.5" textLength="21.69" lengthAdjust="spacingAndGlyphs" fill="#111">the</text>
<text x="788.92" y="280.80" font-family="Liberation Serif, serif" font-size="18.5" textLength="37.75" lengthAdjust="spacingAndGlyphs" fill="#111">clean</text>
<text x="832.15" y="280.80" font-family="Liberation Serif, serif" font-size="18.5" textLength="24.06" lengthAdjust="spacingAndGlyphs" fill="#111">air.</text>
<text x="720.00" y="323.10" font-family="Liberation Serif, serif" font-size="18.5" textLength="107.87" lengthAdjust="spacingAndGlyphs" fill="#111">concentrations</text>
<text x="832.00" y="323.10" font-family="Liberation Serif, serif" font-size="18.5" textLength="17.40" lengthAdjust="spacingAndGlyphs" fill="#111">of</text>
<text x="852.41" y="323.10" font-family="Liberation Serif, serif" font-size="18.5" textLength="44.40" lengthAdjust="spacingAndGlyphs" fill="#111">gases.</text>
<circle cx="857.6" cy="156.9" r="1.35" fill="none" stroke="#111" stroke-width="0.9"/>
<path d="M874.8 163.8Q877.0 165.4 879.2 168.4" stroke="#111" stroke-width="1.5" fill="none" stroke-linecap="round"/>
<path d="M836.8 187.6Q839.0 189.2 841.2 192.2" stroke="#111" stroke-width="1.5" fill="none" stroke-linecap="round"/>
<text x="732.58" y="217.90" font-family="Liberation Serif, serif" font-size="12" textLength="7.11" lengthAdjust="spacingAndGlyphs" fill="#111">2</text>
<text x="733.12" y="283.90" font-family="Liberation Serif, serif" font-size="12" textLength="6.61" lengthAdjust="spacingAndGlyphs" fill="#111">2</text>
<text x="775.87" y="235.70" font-family="Liberation Serif, serif" font-size="14" textLength="11.97" lengthAdjust="spacingAndGlyphs" fill="#333">Ω</text>
<clipPath id="rc"><rect x="680" y="280" width="300" height="21.4"/></clipPath>
<g clip-path="url(#rc)"><text x="693.17" y="302.40" font-family="Liberation Serif, serif" font-size="18.5" textLength="71.19" lengthAdjust="spacingAndGlyphs" fill="#111">Rs:sensor</text><text x="768.83" y="302.40" font-family="Liberation Serif, serif" font-size="18.5" textLength="72.40" lengthAdjust="spacingAndGlyphs" fill="#111">resistance</text><text x="846.38" y="302.40" font-family="Liberation Serif, serif" font-size="18.5" textLength="12.72" lengthAdjust="spacingAndGlyphs" fill="#111">at</text><text x="865.40" y="302.40" font-family="Liberation Serif, serif" font-size="18.5" textLength="53.35" lengthAdjust="spacingAndGlyphs" fill="#111">various</text></g>
</svg>
</body></html>
